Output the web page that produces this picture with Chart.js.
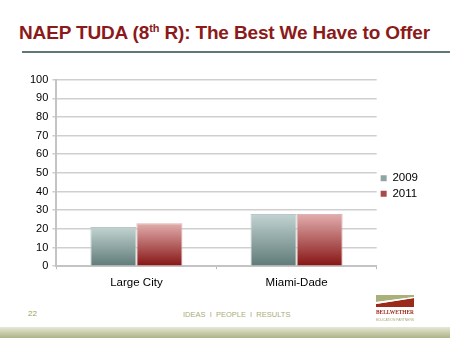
<!DOCTYPE html>
<html>
<head>
<meta charset="utf-8">
<script src="https://cdn.jsdelivr.net/npm/chart.js@4"></script>
<style>
  html, body { margin: 0; padding: 0; background: #fff; }
  body { width: 450px; height: 338px; position: relative; overflow: hidden; font-family: "Liberation Sans", Arial, sans-serif; }
  #title { position: absolute; left: 19px; top: 22px; font-size: 19px; font-weight: bold; color: #8b1a1a; white-space: nowrap; letter-spacing: -0.15px; }
  #title sup { font-size: 11px; vertical-align: 0; position: relative; top: -7px; }
  #rule { position: absolute; left: 22px; top: 51px; width: 428px; height: 2px; background: #5f7775; }
  #wrap { position: absolute; left: 0; top: 69px; width: 450px; height: 231px; }
  #page { position: absolute; left: 28px; top: 309px; font-size: 8px; color: #9aa05a; }
  #tag { position: absolute; left: 183px; top: 310px; font-size: 7.5px; color: #a9ad7a; letter-spacing: 0; }
  #band { position: absolute; left: 0; top: 327px; width: 450px; height: 11px; background: linear-gradient(#e6e8d6, #adb386); }
  #logo { position: absolute; left: 374px; top: 293px; }
</style>
</head>
<body>
<div id="title">NAEP TUDA (8<sup>th</sup> R): The Best We Have to Offer</div>
<div id="rule"></div>
<div id="wrap"><canvas id="chart"></canvas></div>
<div id="page">22</div>
<div id="tag">IDEAS&nbsp; I &nbsp;PEOPLE&nbsp; I &nbsp;RESULTS</div>
<div id="band"></div>
<svg id="logo" width="44" height="34" viewBox="0 0 44 34">
  <polygon points="2,2 40,2 40,4 2,9" fill="#a9b07a"/>
  <polygon points="2,11 40,5 40,14 2,14" fill="#9b2a18"/>
  <polygon points="2,9 40,4 40,5 2,11" fill="#fff"/>
  <text x="2" y="21" textLength="38" lengthAdjust="spacingAndGlyphs" font-family="Liberation Serif, serif" font-size="7" font-weight="bold" fill="#9b2a18">BELLWETHER</text>
  <text x="2" y="28" textLength="38" lengthAdjust="spacingAndGlyphs" font-family="Liberation Sans, sans-serif" font-size="3.6" fill="#a4a870">EDUCATION PARTNERS</text>
</svg>
<script>
const categories = ['Large City', 'Miami-Dade'];
const seriesNames = ['2009', '2011'];
const values2009 = [21, 28];
const values2011 = [23, 28];
const yTicks = [0, 10, 20, 30, 40, 50, 60, 70, 80, 90, 100];
const legendColors = ['#8fa5a2', '#a84a4a'];

// vertical gradient from each bar's top to the baseline
function grad(top, bottom) {
    return ctx => {
        const chart = ctx.chart;
        const area = chart.chartArea;
        if (!area || ctx.raw == null) return bottom;
        const yTop = chart.scales.y.getPixelForValue(ctx.raw);
        const g = chart.ctx.createLinearGradient(0, yTop, 0, area.bottom);
        g.addColorStop(0, top);
        g.addColorStop(1, bottom);
        return g;
    };
}

new Chart(document.getElementById('chart'), {
    type: 'bar',
    data: {
        labels: categories,
        datasets: [
            { label: seriesNames[0], data: values2009, backgroundColor: grad('#c2d4d2', '#5f7a77'), borderColor: '#b7c8c6', borderWidth: 1, borderSkipped: 'bottom' },
            { label: seriesNames[1], data: values2011, backgroundColor: grad('#e2aeae', '#861414'), borderColor: '#ddb2b2', borderWidth: 1, borderSkipped: 'bottom' }
        ]
    },
    options: {
        responsive: true,
        maintainAspectRatio: false,
        animation: false,
        layout: { padding: { left: 26, right: 22, top: 6, bottom: 3 } },
        datasets: { bar: { categoryPercentage: 0.575, barPercentage: 1 } },
        plugins: {
            legend: {
                position: 'right',
                labels: {
                    boxWidth: 6, boxHeight: 6, padding: 4, color: '#000',
                    font: { family: 'Liberation Sans', size: 11.5 },
                    generateLabels: chart => chart.data.datasets.map((ds, i) => ({
                        text: ds.label, fillStyle: legendColors[i], strokeStyle: legendColors[i],
                        lineWidth: 0, datasetIndex: i, fontColor: '#000'
                    }))
                }
            },
            tooltip: { enabled: false }
        },
        scales: {
            x: {
                grid: { display: true, drawOnChartArea: false, tickLength: 3, color: '#bbb' },
                border: { color: '#c4c4c4', width: 2 },
                ticks: { color: '#000', font: { family: 'Liberation Sans', size: 11.5 }, padding: 7 }
            },
            y: {
                min: 0, max: 100,
                afterBuildTicks: axis => { axis.ticks = yTicks.map(v => ({ value: v })); },
                grid: { color: '#cfcfcf', lineWidth: 1.5, tickLength: 4 },
                border: { color: '#c4c4c4', width: 2 },
                ticks: { color: '#000', font: { family: 'Liberation Sans', size: 11 }, padding: 4 }
            }
        }
    }
});
</script>
</body>
</html>
